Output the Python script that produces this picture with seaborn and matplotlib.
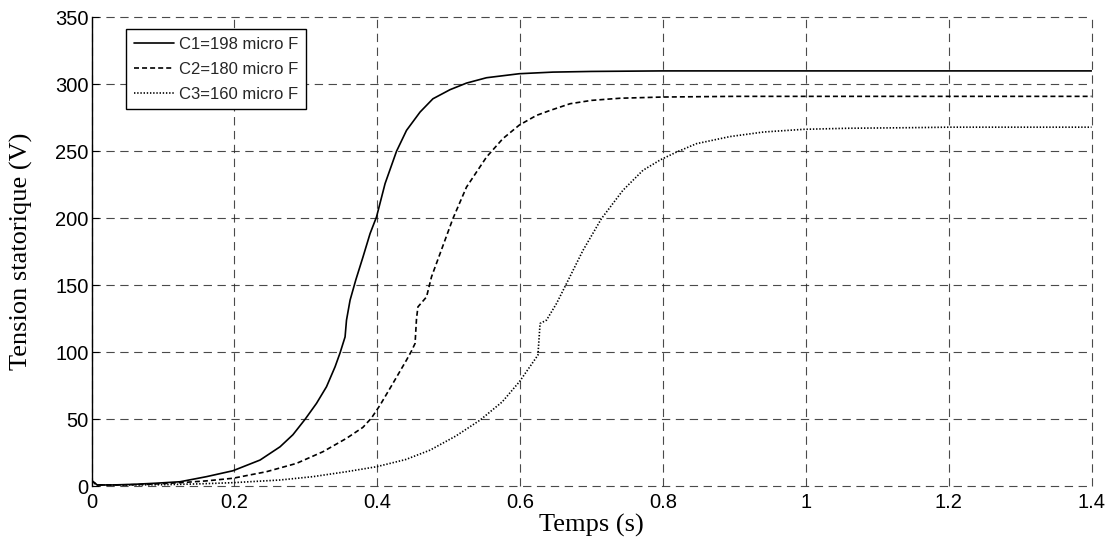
import matplotlib
matplotlib.use("Agg")
import matplotlib.pyplot as plt
import seaborn as sns
import pandas as pd

# ---------------- data ----------------
t_c1 = [0, 0.008, 0.03, 0.06, 0.09, 0.124, 0.161, 0.198, 0.236, 0.264, 0.282, 0.299,
        0.315, 0.329, 0.341, 0.348, 0.355, 0.357, 0.362, 0.37, 0.38, 0.390, 0.399,
        0.411, 0.427, 0.441, 0.460, 0.478, 0.502, 0.525, 0.553, 0.599, 0.646, 0.7,
        0.8, 1.0, 1.2, 1.4]
v_c1 = [4.5, 1, 1, 1.5, 2.3, 3.4, 7.2, 11.6, 19.6, 29.5, 38.5, 50,
        61.9, 74.3, 89.2, 99.6, 111.5, 124, 138.9, 154, 171, 188.6, 201,
        225.9, 250, 265.6, 279.3, 289.2, 296, 300.9, 304.9, 307.9, 309.1, 309.6,
        310, 310, 310, 310]

t_c2 = [0, 0.008, 0.04, 0.08, 0.124, 0.16, 0.198, 0.245, 0.287, 0.324, 0.357, 0.38,
        0.392, 0.404, 0.42, 0.441, 0.448, 0.453, 0.455, 0.457, 0.469, 0.476, 0.488,
        0.506, 0.525, 0.553, 0.576, 0.599, 0.623, 0.642, 0.670, 0.70, 0.74, 0.8, 0.9,
        1.0, 1.2, 1.4]
v_c2 = [4, 1, 1, 1.5, 2.7, 4, 6, 10.9, 17.1, 25.8, 35.8, 44,
        51, 60.6, 75, 94.2, 101, 106.6, 125, 133.9, 141.3, 156.3, 173.7,
        199.8, 223.3, 245.7, 259.5, 269.6, 276.8, 280.5, 285.5, 288, 289.6, 290.5, 291,
        291, 291, 291]

t_c3 = [0, 0.008, 0.05, 0.1, 0.15, 0.198, 0.264, 0.310, 0.357, 0.399, 0.44, 0.474,
        0.51, 0.544, 0.575, 0.599, 0.625, 0.628, 0.637, 0.651, 0.665, 0.688, 0.714,
        0.744, 0.772, 0.797, 0.819, 0.847, 0.894, 0.941, 0.997, 1.06, 1.142, 1.2,
        1.3, 1.4]
v_c3 = [3.5, 1, 1, 1.2, 1.8, 2.7, 4.7, 7.2, 10.9, 14.6, 20, 27,
        37.5, 49.4, 63, 78, 97.9, 121.5, 124, 136.4, 151.3, 176, 199.8,
        220.9, 235.8, 243.8, 249.4, 255.7, 261, 264.4, 266.4, 267.2, 267.6, 268,
        268, 268]

labels = ["C1=198 micro F", "C2=180 micro F", "C3=160 micro F"]
x_ticks = [0, 0.2, 0.4, 0.6, 0.8, 1, 1.2, 1.4]
x_tick_labels = ["0", "0.2", "0.4", "0.6", "0.8", "1", "1.2", "1.4"]
y_ticks = [0, 50, 100, 150, 200, 250, 300, 350]
x_label = "Temps (s)"
y_label = "Tension statorique (V)"

# ---------------- style ----------------
sns.set_theme(style="white")
plt.rcParams["font.family"] = ["Liberation Sans", "DejaVu Sans"]
plt.rcParams["lines.scale_dashes"] = False

fig = plt.figure(figsize=(11.10, 5.42), dpi=100)
ax = fig.add_axes([91.5 / 1110, 1 - 486.3 / 542, 1000 / 1110, 469 / 542])

styles = ["-", (0, (3.6, 2.2)), (0, (1.0, 1.3))]
series = [(t_c1, v_c1), (t_c2, v_c2), (t_c3, v_c3)]
for (tt, vv), lab, ls in zip(series, labels, styles):
    df = pd.DataFrame({"t": tt, "v": vv})
    sns.lineplot(data=df, x="t", y="v", ax=ax, color="black", linestyle=ls,
                 linewidth=1.2, label=lab, estimator=None, sort=True)

ax.set_xlim(0, 1.4)
ax.set_ylim(0, 350)
ax.set_xticks(x_ticks)
ax.set_xticklabels(x_tick_labels)
ax.set_yticks(y_ticks)

ax.grid(True, color="#2a2a2a", linestyle=(0, (6, 4)), linewidth=0.8, alpha=0.85)
ax.set_axisbelow(True)
for gl in ax.get_xgridlines() + ax.get_ygridlines():
    gl.set_clip_on(False)
for side in ["top", "right", "bottom"]:
    ax.spines[side].set_visible(False)
ax.spines["left"].set_color("black")
ax.spines["left"].set_linewidth(1.0)

ax.tick_params(axis="both", direction="in", length=5, width=0.8, color="black",
               labelsize=14.5, labelcolor="black", pad=2)
ax.tick_params(axis="x", bottom=False, pad=5)
ax.tick_params(axis="y", left=True)

ax.set_xlabel(x_label, fontfamily=["Liberation Serif"], fontsize=19,
              color="black", labelpad=1)
ax.set_ylabel(y_label, fontfamily=["Liberation Serif"], fontsize=19,
              color="black", labelpad=16)

leg = ax.legend(loc="upper left", bbox_to_anchor=(0.0345, 0.975), borderaxespad=0,
                fontsize=12, frameon=True, fancybox=False, framealpha=1,
                edgecolor="black", handlelength=2.4, handletextpad=0.35,
                labelspacing=0.6, borderpad=0.45)
leg.get_frame().set_linewidth(1.0)

fig.savefig("out.png", dpi=100, facecolor="white")
